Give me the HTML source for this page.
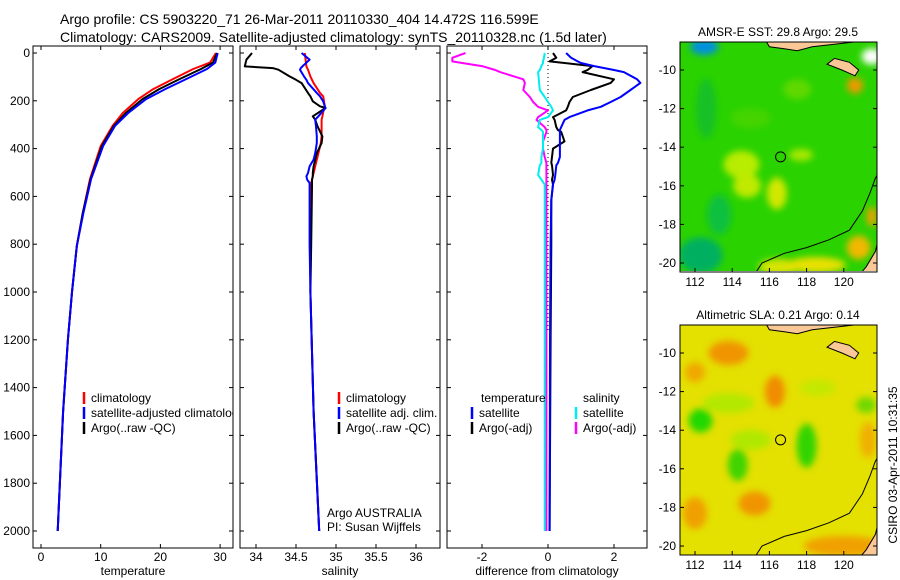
<!DOCTYPE html>
<html><head><meta charset="utf-8">
<style>
body{margin:0;background:#fff;}
svg{display:block;font-family:"Liberation Sans",sans-serif;}
</style></head>
<body>
<svg id="fig" width="900" height="580" viewBox="0 0 900 580" xmlns="http://www.w3.org/2000/svg">
<defs>
<filter id="blur6" x="-50%" y="-50%" width="200%" height="200%"><feGaussianBlur stdDeviation="3.5"/></filter>
<clipPath id="clip1"><rect x="680" y="42" width="197" height="229"/></clipPath>
<clipPath id="clip2"><rect x="680" y="325" width="197" height="230"/></clipPath>
<clipPath id="clipT"><rect x="33" y="46" width="200" height="502"/></clipPath>
</defs>
<text x="60" y="24" font-size="14">Argo profile: CS 5903220_71 26-Mar-2011 20110330_404 14.472S 116.599E</text>
<text x="60" y="42" font-size="14">Climatology: CARS2009. Satellite-adjusted climatology: synTS_20110328.nc (1.5d later)</text>
<g id="g1"></g>
<g id="g2"></g>
<g id="g3"></g>
<g id="m1"></g>
<g id="m2"></g>
<text transform="translate(897,465) rotate(-90)" text-anchor="middle" font-size="12">CSIRO 03-Apr-2011 10:31:35</text>
</svg>
<script>
// ---------- data ----------
const depthTicks=[0,200,400,600,800,1000,1200,1400,1600,1800,2000];
const tempTicks=[0,10,20,30];
const salTicks=[34,34.5,35,35.5,36];
const salTickLabels=["34","34.5","35","35.5","36"];
const diffTicks=[-2,0,2];
const tDepth=[0,40,67,109,151,193,251,305,389,527,669,808,1000,1200,1500,2000];
const tClim=[29.3,28.3,25.5,22.1,18.8,16.3,13.7,12.0,10.0,8.2,7.0,6.0,5.2,4.5,3.7,2.8];
const tSat=[29.6,29.2,27.8,24.3,20.8,17.6,14.6,12.4,10.4,8.4,7.1,6.0,5.2,4.5,3.7,2.8];
const tArgo=[29.5,28.8,26.8,23.2,19.8,17.0,14.2,12.2,10.2,8.3,7.0,6.0,5.2,4.5,3.7,2.8];
const sDepth=[0,28,56,63,70,98,112,126,167,181,202,223,230,265,279,307,349,377,419,446,474,502,516,530,544,558,800,1000,1500,2000];
const sClim=[34.61,34.62,34.63,34.64,34.65,34.68,34.70,34.72,34.80,34.84,34.85,34.86,34.85,34.83,34.82,34.82,34.82,34.81,34.78,34.76,34.74,34.72,34.71,34.70,34.69,34.69,34.68,34.68,34.72,34.79];
const sSat=[34.57,34.67,34.58,34.56,34.55,34.60,34.63,34.65,34.76,34.80,34.84,34.86,34.87,34.78,34.74,34.75,34.76,34.76,34.74,34.72,34.67,34.65,34.63,34.64,34.67,34.67,34.67,34.68,34.72,34.79];
const sArgo=[33.95,33.88,33.86,34.21,34.28,34.42,34.50,34.57,34.65,34.68,34.71,34.80,34.87,34.71,34.74,34.77,34.83,34.82,34.76,34.74,34.72,34.71,34.71,34.70,34.70,34.70,34.69,34.68,34.72,34.79];
const dDepth=[0,20,35,42,55,71,80,110,125,155,184,205,225,240,268,280,310,322,330,370,400,435,460,470,510,530,550,615,800,1200,2000];
const dTSat=[0.55,0.7,0.9,1.0,1.4,2.0,2.3,2.7,2.8,2.5,2.2,1.9,1.6,1.2,0.65,0.5,0.4,0.36,0.36,0.36,0.36,0.36,0.3,0.25,0.22,0.2,0.15,0.1,0.08,0.06,0.05];
const dTArgo=[0.15,0.25,0.05,0.5,1.35,1.2,1.05,2.0,1.9,1.3,0.75,0.65,0.6,0.55,0.15,0.2,0.25,0.3,0.4,0.5,0.15,0.12,0.1,0.12,0.15,0.12,0.15,0.1,0.1,0.08,0.05];
const dSArgo=[-2.5,-2.9,-2.9,-2.6,-2.0,-1.6,-1.45,-0.75,-0.7,-0.75,-0.55,-0.45,-0.3,0,-0.3,-0.35,-0.1,-0.05,-0.05,-0.15,-0.15,-0.1,-0.05,-0.05,-0.05,-0.05,-0.05,-0.05,-0.05,-0.05,-0.05];
const dSSat=[-0.1,-0.12,-0.15,-0.15,-0.2,-0.25,-0.3,-0.28,-0.27,-0.25,-0.1,0,0.1,0.15,0,-0.25,-0.3,-0.2,-0.15,-0.15,-0.15,-0.2,-0.2,-0.25,-0.3,-0.2,-0.1,-0.1,-0.1,-0.1,-0.1];
const lonTicks=[112,114,116,118,120];
const latTicks=[-10,-12,-14,-16,-18,-20];
const floatPos=[116.6,-14.5];

// ---------- helpers ----------
const NS="http://www.w3.org/2000/svg";
function mk(tag,attrs,parent){const e=document.createElementNS(NS,tag);for(const k in attrs)e.setAttribute(k,attrs[k]);parent.appendChild(e);return e;}
const Y0=53,Y1=531;
const yD=d=>Y0+(Y1-Y0)*d/2000;

function panel(g,x0,x1,xs,ticks,labels,xlabel,name){
  const box=mk('rect',{x:x0,y:46,width:x1-x0,height:502,fill:'none',stroke:'#000','stroke-width':1},g);
  
  
  depthTicks.forEach(d=>{
    mk('line',{x1:x0,x2:x0+4,y1:yD(d),y2:yD(d),stroke:'#000'},g);
    mk('line',{x1:x1,x2:x1-4,y1:yD(d),y2:yD(d),stroke:'#000'},g);
    if(name==='temperature'){const t=mk('text',{x:x0-3,y:yD(d)+4,'text-anchor':'end','font-size':12},g);t.textContent=d;
      
      }
  });
  ticks.forEach((v,i)=>{
    const x=xs(v);
    mk('line',{x1:x,x2:x,y1:46,y2:50,stroke:'#000'},g);
    mk('line',{x1:x,x2:x,y1:548,y2:544,stroke:'#000'},g);
    const t=mk('text',{x:x,y:561,'text-anchor':'middle','font-size':12},g);t.textContent=labels[i];
    
    
  });
  const xl=mk('text',{x:(x0+x1)/2,y:575,'text-anchor':'middle','font-size':12},g);xl.textContent=xlabel;
  
  
}
function line(g,xs,vals,deps,color,w,nm){
  const pts=vals.map((v,i)=>xs(v).toFixed(1)+','+yD(deps[i]).toFixed(1)).join(' ');
  const p=mk('polyline',{points:pts,fill:'none',stroke:color,'stroke-width':w,'stroke-linejoin':'round'},g);
  
  
}
function legend(g,x,y,items){
  items.forEach((it,i)=>{
    const yy=y+i*15;
    mk('line',{x1:x,x2:x,y1:yy-10,y2:yy+2,stroke:it[1],'stroke-width':2.5},g);
    const t=mk('text',{x:x+7,y:yy,'font-size':12},g);t.textContent=it[0];
    
    
  });
}

// ---------- temperature ----------
const g1=document.getElementById('g1');
const xT=v=>41+v*5.97;
panel(g1,33,233,xT,tempTicks,tempTicks.map(String),'temperature','temperature');
line(g1,xT,tClim,tDepth,'#f00',2,'temp-climatology-line');
line(g1,xT,tArgo,tDepth,'#000',2,'temp-argo-line');
line(g1,xT,tSat,tDepth,'#00f',2,'temp-satellite-line');
const lg1=mk('g',{'clip-path':'url(#clipT)'},g1);
legend(lg1,84,402,[['climatology','#f00'],['satellite-adjusted climatology','#00f'],['Argo(..raw -QC)','#000']]);

// ---------- salinity ----------
const g2=document.getElementById('g2');
const xS=v=>256+(v-34)*80;
panel(g2,240,440,xS,salTicks,salTickLabels,'salinity','salinity');
line(g2,xS,sClim,sDepth,'#f00',2,'sal-climatology-line');
line(g2,xS,sArgo,sDepth,'#000',2,'sal-argo-line');
line(g2,xS,sSat,sDepth,'#00f',2,'sal-satellite-line');
legend(g2,339,402,[['climatology','#f00'],['satellite adj. clim.','#00f'],['Argo(..raw -QC)','#000']]);
[['Argo AUSTRALIA',517],['PI: Susan Wijffels',531]].forEach(a=>{const t=mk('text',{x:327,y:a[1],'font-size':12},g2);t.textContent=a[0];
  
  });

// ---------- difference ----------
const g3=document.getElementById('g3');
const xDf=v=>548+v*33;
panel(g3,447,647,xDf,diffTicks,diffTicks.map(String),'difference from climatology','difference');
mk('line',{x1:548,x2:548,y1:53,y2:330,stroke:'#000','stroke-dasharray':'1,3'},g3);
line(g3,xDf,dSArgo,dDepth,'#f0f',2,'diff-sal-argo-line');
line(g3,xDf,dSSat,dDepth,'#0ee',2,'diff-sal-sat-line');
line(g3,xDf,dTArgo,dDepth,'#000',2,'diff-temp-argo-line');
line(g3,xDf,dTSat,dDepth,'#00f',2,'diff-temp-sat-line');
[['temperature',481,402],['salinity',583,402]].forEach(a=>{const t=mk('text',{x:a[1],y:a[2],'font-size':12},g3);t.textContent=a[0];
  
  });
legend(g3,472,417,[['satellite','#00f'],['Argo(-adj)','#000']]);
legend(g3,576,417,[['satellite','#0ee'],['Argo(-adj)','#f0f']]);

// ---------- maps ----------
function map(gid,top,title,base,blobs,clip){
  const g=document.getElementById(gid);
  const lx=v=>695+(v-112)*18.6;
  const ly=v=>top+28+(-10-v)*19.3;
  const tt=mk('text',{x:778,y:top-6,'text-anchor':'middle','font-size':12},g);tt.textContent=title;
  
  
  const c=mk('g',{'clip-path':'url(#'+clip+')'},g);
  mk('rect',{x:680,y:top,width:197,height:230,fill:base},c);
  const bg=mk('g',{filter:'url(#blur6)'},c);
  blobs.forEach(b=>mk('ellipse',{cx:lx(b[0]),cy:ly(b[1]),rx:b[2],ry:b[3],fill:b[4]},bg));
  const land=(pts)=>pts.map(p=>lx(p[0]).toFixed(1)+','+ly(p[1]).toFixed(1)).join(' ');
  mk('polygon',{points:land([[121.9,-18.6],[121.9,-21],[120.5,-21],[121.2,-20.2],[121.7,-19.4]]),fill:'#fac896',stroke:'#000'},c);
  mk('polygon',{points:land([[119.1,-9.7],[119.5,-9.4],[120.3,-9.6],[120.8,-10.0],[120.6,-10.3],[119.9,-10.0]]),fill:'#fac896',stroke:'#000'},c);
  mk('polygon',{points:land([[115.7,-8.3],[116.0,-8.8],[116.8,-8.9],[117.5,-9.0],[118.3,-8.8],[119.2,-8.7],[121.9,-8.4],[121.9,-8.3]]),fill:'#fac896',stroke:'#000'},c);
  mk('polyline',{points:land([[115.2,-20.6],[115.6,-20.0],[116.8,-19.5],[118.0,-19.2],[119.2,-18.8],[120.3,-18.3],[121.0,-17.3],[121.4,-16.4],[121.7,-15.6],[121.9,-15.3]]),fill:'none',stroke:'#000'},c);
  mk('rect',{x:680,y:top,width:197,height:230,fill:'none',stroke:'#000'},g);
  lonTicks.forEach(v=>{mk('line',{x1:lx(v),x2:lx(v),y1:top+230,y2:top+226,stroke:'#000'},g);
    const t=mk('text',{x:lx(v),y:top+244,'text-anchor':'middle','font-size':12},g);t.textContent=v;
    
    });
  latTicks.forEach(v=>{mk('line',{x1:680,x2:684,y1:ly(v),y2:ly(v),stroke:'#000'},g);mk('line',{x1:877,x2:873,y1:ly(v),y2:ly(v),stroke:'#000'},g);
    const t=mk('text',{x:676,y:ly(v)+4,'text-anchor':'end','font-size':12},g);t.textContent=v;
    
    });
  const fc=mk('circle',{cx:lx(floatPos[0]),cy:ly(floatPos[1]),r:5,fill:'none',stroke:'#000'},g);
  
  
}
map('m1',42,'AMSR-E SST: 29.8  Argo: 29.5','#2ad200',[
 [112.5,-8.8,14,8,'#0090e0'],[114.5,-14.9,18,14,'#b8ec00'],[114.8,-16,14,12,'#c0ea00'],[116.4,-16.4,10,16,'#d0e800'],
 [117.7,-14.4,12,6,'#a8e800'],[112.3,-19.6,22,18,'#00b060'],[113.3,-17.5,12,20,'#10c040'],[115,-12.5,20,10,'#44d400'],
 [116.5,-20.2,20,8,'#d8e400'],[118.5,-20.1,30,8,'#e8e000'],[120.8,-19.2,12,12,'#f0b800'],[121.5,-17.6,5,10,'#f0a000'],
 [120.6,-10.8,8,8,'#f09800'],[121.5,-9.3,10,8,'#ffffff'],[117.5,-11,14,10,'#60d800'],[112.6,-12,10,30,'#18c028']
],'clip1');
map('m2',325,'Altimetric SLA: 0.21  Argo: 0.14','#e4e000',[
 [113.8,-10,20,12,'#f09400'],[112,-11,10,10,'#f0a800'],[116.3,-12,10,16,'#f08c00'],
 [115.2,-17.8,16,12,'#f09400'],[112,-18.3,12,16,'#f0a000'],[121.3,-14.5,8,18,'#f0b000'],
 [120,-20,40,10,'#f0a000'],[112.3,-13.5,12,12,'#20d800'],[114.3,-15.8,10,16,'#40d400'],
 [118,-14.8,10,22,'#30d400'],[121.2,-12.7,10,8,'#70d800'],[113.8,-12.6,26,10,'#b4e800'],
 [118.6,-11.8,18,8,'#c4e800'],[115,-14.5,20,10,'#b0e800']
],'clip2');
</script>
</body></html>
